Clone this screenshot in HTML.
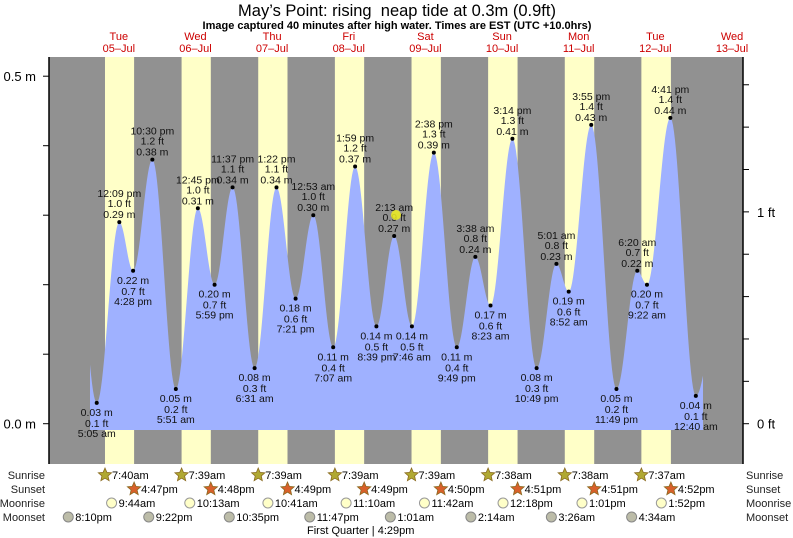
<!DOCTYPE html>
<html><head><meta charset="utf-8"><style>
body{margin:0;background:#fff}
svg{display:block;font-family:"Liberation Sans",sans-serif}
</style></head><body>
<svg id="s" width="793" height="538" xmlns="http://www.w3.org/2000/svg"></svg>
<script>
const s=document.getElementById('s');
const X0=80.5,PD=76.65,Y0=423.7,PM=695;
const L=49,R=743,T=57,B=464;
function X(d,h,m){return X0+(d+(h+m/60)/24)*PD}
function Y(v){return Y0-v*PM}
let h='';
h+=`<rect x="${L}" y="${T}" width="${R-L}" height="${B-T}" fill="#919191"/>`;
const sr=[[7,40],[7,39],[7,39],[7,39],[7,39],[7,38],[7,38],[7,37]];
const ss=[[16,47],[16,48],[16,49],[16,49],[16,50],[16,51],[16,51],[16,52]];
for(let i=0;i<8;i++){const a=X(i,...sr[i]),b=X(i,...ss[i]);h+=`<rect x="${a}" y="${T}" width="${b-a}" height="${B-T}" fill="#ffffc8"/>`;}
const tp=[[0,5,5,.03],[0,12,9,.29],[0,16,28,.22],[0,22,30,.38],[1,5,51,.05],[1,12,45,.31],[1,17,59,.20],[1,23,37,.34],[2,6,31,.08],[2,13,22,.34],[2,19,21,.18],[3,0,53,.30],[3,7,7,.11],[3,13,59,.37],[3,20,39,.14],[4,2,13,.27],[4,7,46,.14],[4,14,38,.39],[4,21,49,.11],[5,3,38,.24],[5,8,23,.17],[5,15,14,.41],[5,22,49,.08],[6,5,1,.23],[6,8,52,.19],[6,15,55,.43],[6,23,49,.05],[7,6,20,.22],[7,9,22,.20],[7,16,41,.44],[8,0,40,.04]];
const P=tp.map(p=>[X(p[0],p[1],p[2]),p[3]]);
const ext=[[P[0][0]-(P[1][0]-P[0][0]),0.30],...P,[P[P.length-1][0]+(P[P.length-1][0]-P[P.length-2][0]),0.20]];
const xs=90,xe=703;let d=`M${xs} 430`;
for(let x=xs;x<=xe;x+=1){let i=0;while(i<ext.length-2&&ext[i+1][0]<x)i++;const a=ext[i],b=ext[i+1];const t=(x-a[0])/(b[0]-a[0]);const v=a[1]+(b[1]-a[1])*(1-Math.cos(Math.PI*t))/2;d+=`L${x} ${Y(v).toFixed(1)}`;}
d+=`L${xe} 430Z`;
h+=`<path d="${d}" fill="#9fb1ff"/>`;
function fmt(hh,mm){const ap=hh<12?'am':'pm';let H=hh%12;if(H==0)H=12;return H+':'+String(mm).padStart(2,'0')+' '+ap}
tp.forEach((p,i)=>{const x=P[i][0],y=Y(p[3]);const prev=i>0?tp[i-1][3]:-1;const high=(i==0)?false:(p[3]>prev);
const ft=(p[3]/0.3048).toFixed(1)+' ft',m=p[3].toFixed(2)+' m',tm=fmt(p[1],p[2]);
h+=`<circle cx="${x}" cy="${y}" r="2" fill="#000"/>`;
const st=`font-size="10.5" text-anchor="middle" fill="#111"`;
if(high){h+=`<text x="${x}" y="${y-25}" ${st}>${tm}</text><text x="${x}" y="${y-15}" ${st}>${ft}</text><text x="${x}" y="${y-4}" ${st}>${m}</text>`;}
else{h+=`<text x="${x}" y="${y+13}" ${st}>${m}</text><text x="${x}" y="${y+24}" ${st}>${ft}</text><text x="${x}" y="${y+34}" ${st}>${tm}</text>`;}
});
h+=`<circle cx="396" cy="215" r="5" fill="#f0f020" opacity="0.85"/>`;
h+=`<line x1="${L}" y1="${T}" x2="${L}" y2="${B}" stroke="#000" stroke-width="1.5"/><line x1="${R}" y1="${T}" x2="${R}" y2="${B}" stroke="#000" stroke-width="1.5"/>`;
for(let k=0;k<=5;k++){const y=Y(k*0.1);h+=`<line x1="${L-6}" y1="${y}" x2="${L}" y2="${y}" stroke="#000"/>`;}
h+=`<text x="36" y="${Y0+5}" font-size="13" text-anchor="end">0.0 m</text><text x="36" y="${Y(0.5)+5}" font-size="13" text-anchor="end">0.5 m</text>`;
for(let k=0;k<=8;k++){const y=Y(k*0.2*0.3048);h+=`<line x1="${R}" y1="${y}" x2="${R+6}" y2="${y}" stroke="#000"/>`;}
h+=`<text x="757" y="${Y0+5}" font-size="13">0 ft</text><text x="757" y="${Y(0.3048)+5}" font-size="13">1 ft</text>`;
h+=`<text x="397" y="16" font-size="16.5" text-anchor="middle" style="white-space:pre">May’s Point: rising  neap tide at 0.3m (0.9ft)</text>`;
h+=`<text x="397" y="29" font-size="11" font-weight="bold" text-anchor="middle">Image captured 40 minutes after high water. Times are EST (UTC +10.0hrs)</text>`;
const dn=['Tue','Wed','Thu','Fri','Sat','Sun','Mon','Tue','Wed'];
for(let i=0;i<9;i++){const x=X0+(i+0.5)*PD;h+=`<text x="${x}" y="40" font-size="11" fill="#cc0000" text-anchor="middle">${dn[i]}</text><text x="${x}" y="52" font-size="11" fill="#cc0000" text-anchor="middle">${String(5+i).padStart(2,'0')}–Jul</text>`;}
const rows=[['Sunrise',479],['Sunset',493],['Moonrise',507],['Moonset',521]];
rows.forEach(r=>{h+=`<text x="45" y="${r[1]}" font-size="11" text-anchor="end" fill="#222">${r[0]}</text><text x="746" y="${r[1]}" font-size="11" fill="#222">${r[0]}</text>`;});
function star(cx,cy,f){let pts=[];for(let k=0;k<10;k++){const rr=k%2?3.2:7,a=-Math.PI/2+k*Math.PI/5;pts.push((cx+rr*Math.cos(a)).toFixed(1)+','+(cy+rr*Math.sin(a)).toFixed(1));}return `<polygon points="${pts.join(' ')}" fill="${f}" stroke="#8a6a20" stroke-width="0.8"/>`}
function t12(hh,mm){const ap=hh<12?'am':'pm';let H=hh%12;if(H==0)H=12;return H+':'+String(mm).padStart(2,'0')+ap}
for(let i=0;i<8;i++){let x=X(i,...sr[i]);h+=star(x,475,'#b0a832')+`<text x="${x+7}" y="479" font-size="11">${t12(...sr[i])}</text>`;
x=X(i,...ss[i]);h+=star(x,489,'#d8602a')+`<text x="${x+7}" y="493" font-size="11">${t12(...ss[i])}</text>`;}
const mr=[[0,9,44],[1,10,13],[2,10,41],[3,11,10],[4,11,42],[5,12,18],[6,13,1],[7,13,52]];
mr.forEach(m=>{const x=X(...m);h+=`<circle cx="${x}" cy="503" r="5" fill="#ffffc8" stroke="#999"/><text x="${x+7}" y="507" font-size="11">${t12(m[1],m[2])}</text>`;});
const ms=[[-1,20,10],[0,21,22],[1,22,35],[2,23,47],[4,1,1],[5,2,14],[6,3,26],[7,4,34]];
ms.forEach(m=>{const x=X(...m);h+=`<circle cx="${x}" cy="517" r="5" fill="#bcbca8" stroke="#888"/><text x="${x+7}" y="521" font-size="11">${t12(m[1],m[2])}</text>`;});
h+=`<text x="307" y="534" font-size="11">First Quarter | 4:29pm</text>`;
s.innerHTML=h;
</script>
</body></html>
